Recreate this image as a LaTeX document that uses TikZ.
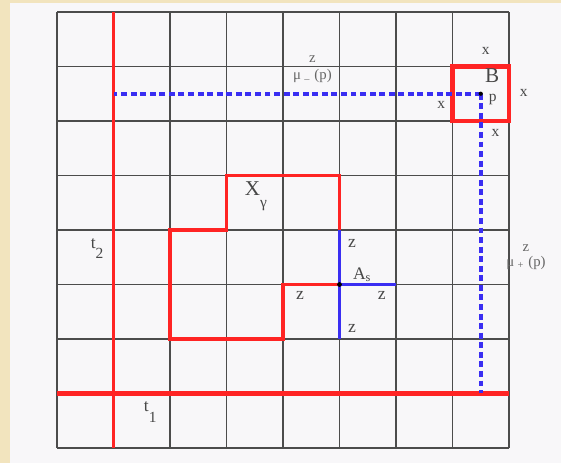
\documentclass[tikz,border=0pt]{standalone}
\usepackage{fontspec}
\setmainfont{Liberation Serif}
\usetikzlibrary{positioning}
\definecolor{cream}{HTML}{F2E4BE}
\definecolor{paper}{HTML}{F8F7F9}
\definecolor{cutred}{HTML}{FF2424}
\definecolor{rayblue}{HTML}{3A2EF2}
\newcommand{\lowsub}[1]{\raisebox{-0.6em}{\fontsize{11}{12}\selectfont #1}}
\tikzset{
  gridline/.style={draw=black!70, line width=1pt},
  cutline/.style={draw=cutred, line width=2.8pt},
  cutthick/.style={draw=cutred, line width=3.9pt},
  cutbox/.style={draw=cutred, line width=3.4pt},
  rayline/.style={draw=rayblue, line width=2.8pt},
  raydots/.style={draw=rayblue, line width=2.8pt, dash pattern=on 4.2pt off 2.6pt},
  labtext/.style={font=\fontsize{12.5}{14}\selectfont, text=black!72, inner sep=1pt},
  smalltext/.style={font=\fontsize{11}{13}\selectfont, text=black!72, inner sep=1pt},
  mutext/.style={font=\fontsize{10.5}{12}\selectfont, text=black!60, inner sep=1pt}
}

\begin{document}
\begin{tikzpicture}[x=1.4125cm, y=1.3625cm]
% page
\fill[cream] (-1.425cm,-0.375cm) rectangle (12.6cm,11.2cm);
\fill[paper] (-1.175cm,-0.375cm) rectangle (12.6cm,11.125cm);
\useasboundingbox (-1.425cm,-0.375cm) rectangle (12.6cm,11.2cm);

% lattice
\foreach \i in {0,...,8} {
  \draw[gridline] (\i,0) -- (\i,8);
  \draw[gridline] (0,\i) -- (8,\i);
}

% the two red cuts
\draw[cutline] (1,0) -- (1,8);
\draw[cutthick] (0,1) -- (8,1);

% region X_gamma
\draw[cutline, line join=miter] (5,3) -- (5,5) -- (3,5) -- (3,4) -- (2,4)
  -- (2,2) -- (4,2) -- (4,3) -- cycle;

% box B around p
\draw[cutbox] (7,6) rectangle (8,7);

% blue rays from p
\coordinate (p) at (7.5,6.5);
\coordinate (pleft) at (1,6.5);
\coordinate (pdown) at (7.5,1);
\draw[raydots] (p) -- (pleft);
\draw[raydots] (p) -- (pdown);
\fill[black] (p) circle (1.5pt);

% blue cross at A_s
\coordinate (As) at (5,3);
\coordinate (Asup) at (5,4);
\coordinate (Asdown) at (5,2);
\coordinate (Asright) at (6,3);
\draw[rayline] (Asup) -- (Asdown);
\draw[rayline] (As) -- (Asright);
\fill[black] (As) circle (1.7pt);

% labels
\node (lB) [labtext, font=\fontsize{15}{17}\selectfont] at (7.70,6.84) {B};
\node (lp) [smalltext] at (7.71,6.40) {p};
\node (xa) [smalltext] at (7.59,7.28) {x};
\node (xr) [smalltext] at (8.26,6.51) {x};
\node (xl) [smalltext] at (6.80,6.29) {x};
\node (xb) [smalltext] at (7.76,5.78) {x};

\node (mum) [mutext] at (4.52,6.82) {μ\textsubscript{\,\,–\,}\,(p)};
\node (zm) [mutext, above=3pt of mum] {z};
\node (mup) [mutext] at (8.30,3.40) {μ\textsubscript{\,\,+\,}\,(p)};
\node (zp) [mutext, above=1pt of mup] {z};

\node (lX) [labtext, font=\fontsize{15}{17}\selectfont] at (3.52,4.62) {X\lowsub{γ}};
\node (lAs) [labtext] at (5.40,3.18) {A\textsubscript{s}};
\node (za) [labtext] at (5.22,3.76) {z};
\node (zl) [labtext] at (4.30,2.80) {z};
\node (zr) [labtext] at (5.75,2.80) {z};
\node (zb) [labtext] at (5.22,2.20) {z};

\node (lt2) [labtext] at (0.71,3.66) {t\lowsub{2}};
\node (lt1) [labtext] at (1.65,0.66) {t\lowsub{1}};
\end{tikzpicture}
\end{document}
